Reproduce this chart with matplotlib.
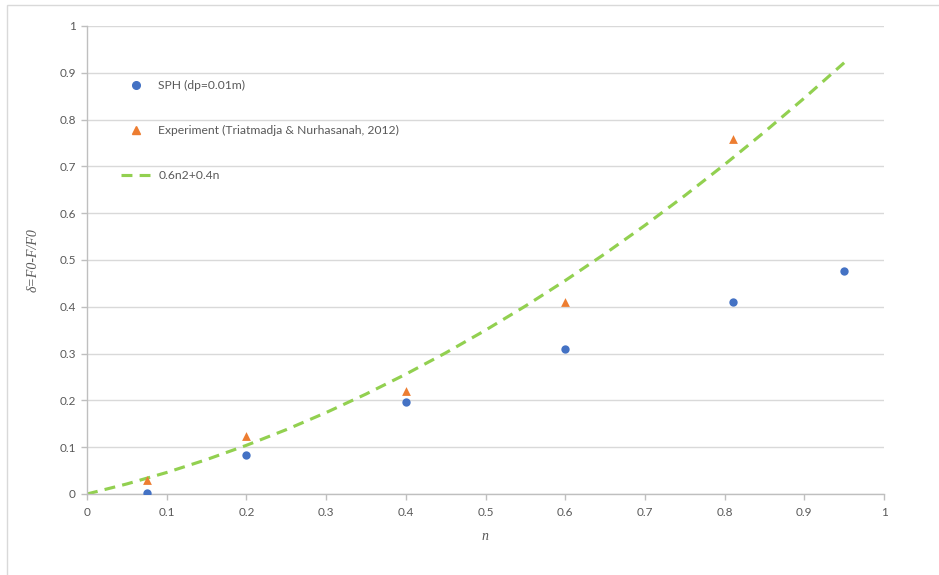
import matplotlib
matplotlib.use("Agg")
import matplotlib.pyplot as plt
from matplotlib.patches import Rectangle
from matplotlib.lines import Line2D

# Data
sph_n = [0.075, 0.2, 0.4, 0.6, 0.81, 0.95]
sph_delta = [0.003, 0.083, 0.197, 0.31, 0.41, 0.477]
exp_n = [0.075, 0.2, 0.4, 0.6, 0.81]
exp_delta = [0.029, 0.124, 0.22, 0.41, 0.758]
curve_n = [0, 0.05, 0.1, 0.15, 0.2, 0.25, 0.3, 0.35, 0.4, 0.45, 0.5,
           0.55, 0.6, 0.65, 0.7, 0.75, 0.8, 0.85, 0.9, 0.95]
curve_delta = [0, 0.0215, 0.046, 0.0735, 0.104, 0.1375, 0.174, 0.2135, 0.256,
               0.3015, 0.35, 0.4015, 0.456, 0.5135, 0.574, 0.6375, 0.704,
               0.7735, 0.846, 0.9215]
ticks = [0, 0.1, 0.2, 0.3, 0.4, 0.5, 0.6, 0.7, 0.8, 0.9, 1]
tick_labels = ["0", "0.1", "0.2", "0.3", "0.4", "0.5", "0.6", "0.7", "0.8", "0.9", "1"]
labels = ["SPH (dp=0.01m)", "Experiment (Triatmadja & Nurhasanah, 2012)", "0.6n2+0.4n"]

W, H = 939, 575
fig = plt.figure(figsize=(W / 100, H / 100), dpi=100)
plt.rcParams['font.family'] = ['Lato', 'DejaVu Sans']
txt = '#595959'

# chart area border
fig.patches.append(Rectangle((7 / W, -0.01), 1.0, 1 - 5 / H + 0.01, transform=fig.transFigure,
                             fill=False, edgecolor='#d9d9d9', linewidth=1.0))

ax = fig.add_axes([87 / W, 1 - 494 / H, (884 - 87) / W, (494 - 26) / H])
ax.set_xlim(0, 1)
ax.set_ylim(0, 1)
ax.set_xticks(ticks)
ax.set_xticklabels(tick_labels)
ax.set_yticks(ticks)
ax.set_yticklabels(tick_labels)
ax.grid(axis='y', color='#d9d9d9', linewidth=1.0)
ax.set_axisbelow(True)
for s in ['top', 'right']:
    ax.spines[s].set_visible(False)
for s in ['left', 'bottom']:
    ax.spines[s].set_color('#bfbfbf')
    ax.spines[s].set_linewidth(1.0)
ax.tick_params(axis='both', colors='#bfbfbf', labelcolor=txt, labelsize=8.5,
               length=4, width=1.0, direction='out')
ax.tick_params(axis='x', pad=5)
ax.tick_params(axis='y', pad=4)

ax.scatter(sph_n, sph_delta, s=36, marker='o', color='#4472C4', zorder=3, linewidths=0)
ax.scatter(exp_n, exp_delta, s=40, marker='^', color='#ED7D31', zorder=3, linewidths=0)
ax.plot(curve_n, curve_delta, color='#92D050', linewidth=2.25, dashes=(3.5, 2.3), zorder=2)

ax.set_xlabel('n', family='Liberation Serif', style='italic', color=txt, fontsize=10, labelpad=9)
ax.set_ylabel('δ=F0-F/F0', family='Liberation Serif', style='italic', color=txt, fontsize=10, labelpad=14)

handles = [
    Line2D([], [], linestyle='none', marker='o', color='#4472C4', markersize=5.5),
    Line2D([], [], linestyle='none', marker='^', color='#ED7D31', markersize=5.5),
    Line2D([], [], color='#92D050', linewidth=2.25, dashes=(3.5, 2.3)),
]
leg = ax.legend(handles, labels, loc='upper left', bbox_to_anchor=(115 / W, 1 - 74 / H),
                bbox_transform=fig.transFigure, frameon=False, fontsize=8.7,
                labelspacing=2.8, handlelength=2.4, handletextpad=0.7, borderpad=0)
for t in leg.get_texts():
    t.set_color(txt)

fig.savefig('out.png', dpi=100)
